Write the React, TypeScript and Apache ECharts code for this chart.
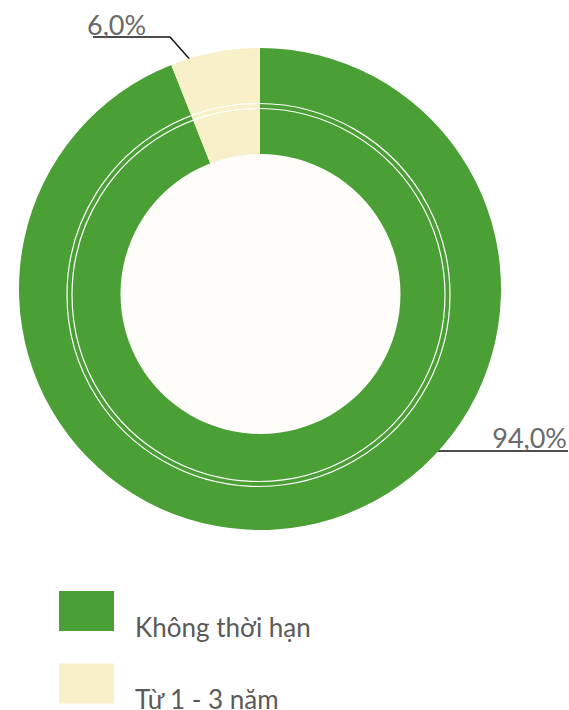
import React, { useEffect, useRef } from "react";
import * as echarts from "echarts";

const categories = ["Không thời hạn", "Từ 1 - 3 năm"];
const values = [94.0, 6.0];
const colors = ["#4a9f35", "#f8f0c9"];

export default function App() {
  const ref = useRef<HTMLDivElement>(null);
  useEffect(() => {
    if (!ref.current) return;
    const chart = echarts.init(ref.current, null, { renderer: "svg" });
    const labelPos: Record<number, any> = {
      0: {
        x: 567,
        y: 451,
        align: "right",
        verticalAlign: "bottom",
        labelLinePoints: [
          [433, 451],
          [500, 451],
          [568, 451],
        ],
      },
      1: {
        x: 87,
        y: 38,
        align: "left",
        verticalAlign: "bottom",
        labelLinePoints: [
          [193, 63],
          [170, 37],
          [93, 37],
        ],
      },
    };
    chart.setOption({
      animation: false,
      backgroundColor: "#ffffff",
      legend: {
        orient: "vertical",
        left: 59,
        top: 591,
        height: 200,
        padding: 0,
        itemWidth: 55,
        itemHeight: 40,
        itemGap: 24,
        icon: "rect",
        selectedMode: false,
        data: categories,
        formatter: (name: string) => "{a|" + name + "}",
        textStyle: {
          fontFamily: "Lato",
          fontSize: 26,
          color: "#5a5a5a",
          rich: {
            a: {
              fontFamily: "Lato",
              fontSize: 26,
              color: "#5a5a5a",
              padding: [31, 0, 0, 16],
            },
          },
        },
      },
      graphic: {
        elements: [
          {
            type: "circle",
            z: 100,
            shape: { cx: 260.5, cy: 294, r: 140 },
            style: { fill: "#fffdf9", stroke: "none" },
          },
          {
            type: "circle",
            z: 100,
            shape: { cx: 258.5, cy: 295, r: 191.5 },
            style: { fill: "none", stroke: "#ffffff", lineWidth: 1.2 },
          },
          {
            type: "circle",
            z: 100,
            shape: { cx: 258.5, cy: 295, r: 186.5 },
            style: { fill: "none", stroke: "#ffffff", lineWidth: 1.2 },
          },
        ],
      },
      series: [
        {
          type: "pie",
          center: [260, 289],
          radius: [120, 241],
          startAngle: 90,
          clockwise: true,
          avoidLabelOverlap: false,
          silent: true,
          data: categories.map((name, i) => ({
            name,
            value: values[i],
            itemStyle: { color: colors[i] },
          })),
          label: {
            show: true,
            position: "outside",
            formatter: (p: any) => p.value.toFixed(1).replace(".", ",") + "%",
            fontFamily: "Lato",
            fontSize: 27,
            color: "#6a6a6a",
          },
          labelLine: {
            show: true,
            lineStyle: { color: "#111111", width: 1.4 },
          },
          labelLayout: (params: any) => labelPos[params.dataIndex],
          emphasis: { disabled: true },
        },
      ],
    });
    return () => chart.dispose();
  }, []);
  return (
    <div
      ref={ref}
      style={{ position: "absolute", left: 0, top: 0, width: 569, height: 710 }}
    />
  );
}
